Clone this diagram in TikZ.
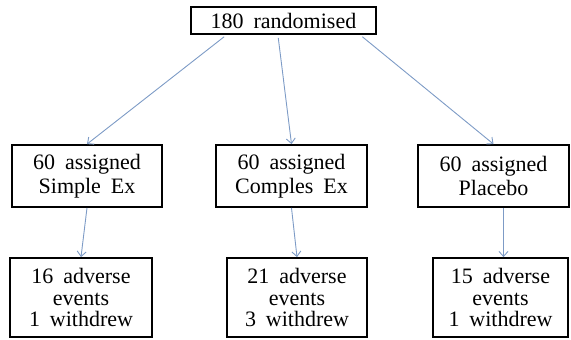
\documentclass[tikz,border=0pt]{standalone}
\usepackage{fontspec}
\setmainfont{Liberation Serif}[WordSpace={1.8,1,1}]
\usepackage{xcolor}
\usetikzlibrary{positioning, arrows.meta, calc}
\definecolor{linkblue}{RGB}{125,155,198}

\begin{document}
\begin{tikzpicture}[
        x=1pt, y=-1pt,
        >={Straight Barb[length=5pt, width=9pt]},
        box/.style={rectangle, draw, line width=1.8pt, inner sep=0pt, align=center,
                    font=\fontsize{22}{23.5}\selectfont},
        evbox/.style={box, minimum height=79pt, font=\fontsize{22}{21.3}\selectfont},
        link/.style={->, color=linkblue, line width=0.9pt}
    ]
        \useasboundingbox (0,0) rectangle (571,340);

        \node[box, minimum width=185pt, minimum height=27pt] (rand) at (283.5, 20.5) {180 randomised};

        \node[box, minimum width=150pt, minimum height=62pt] (simple)  at (87, 176)    {60 assigned\\Simple Ex};
        \node[box, minimum width=151pt, minimum height=62pt] (complex) at (291.5, 176) {60 assigned\\Comples Ex};
        \node[box, minimum width=151pt, minimum height=62pt] (placebo) at (493.5, 176) {60 assigned\\Placebo};

        \node[evbox, minimum width=142pt] (ev1) at (81, 297.5)  {16 adverse\\events\\1 withdrew};
        \node[evbox, minimum width=140pt] (ev2) at (297, 297.5) {21 adverse\\events\\3 withdrew};
        \node[evbox, minimum width=135pt] (ev3) at (500.5, 297.5) {15 adverse\\events\\1 withdrew};

        \draw[link, shorten <=3pt] ($(rand.south west)!0.195!(rand.south east)$) -- (simple.north);
        \draw[link, shorten <=3pt] ($(rand.south west)!0.47!(rand.south east)$)  -- (complex.north);
        \draw[link, shorten <=3pt] ($(rand.south west)!0.91!(rand.south east)$)  -- (placebo.north);

        \draw[link] (simple.south)  -- (ev1.north);
        \draw[link] (complex.south) -- (ev2.north);
        \draw[link] ($(ev3.north |- placebo.south)+(3,0)$) -- ($(ev3.north)+(3,0)$);
    \end{tikzpicture}
\end{document}
